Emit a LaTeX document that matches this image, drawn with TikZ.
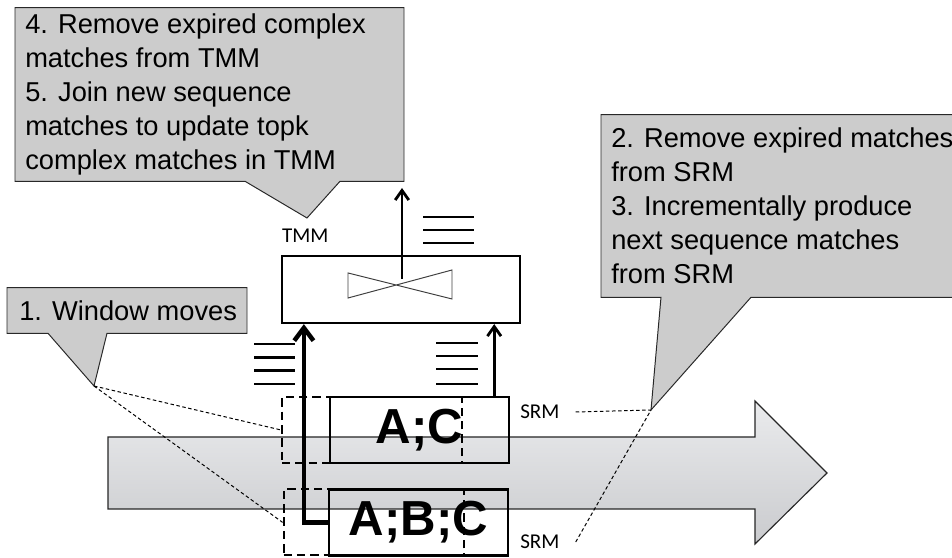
\documentclass[tikz,border=0pt]{standalone}
\usepackage{fontspec}
\setmainfont{Liberation Sans}
\newfontfamily\tagfont{Carlito}
\usetikzlibrary{positioning, arrows.meta, calc, backgrounds}
\definecolor{NoteGray}{RGB}{204,204,204}
\definecolor{NoteLine}{RGB}{40,40,40}
\definecolor{StreamTop}{RGB}{234,235,237}
\definecolor{StreamBottom}{RGB}{202,203,206}

\begin{document}
\begin{tikzpicture}[
    notetext/.style={align=left, anchor=west, inner xsep=0.25cm, inner ysep=0pt, font=\fontsize{19.4}{24.2}\selectfont},
    notebox/.style={draw=NoteLine, fill=NoteGray, line width=0.7pt},
    storebox/.style={draw, line width=1.6pt, minimum width=4.475cm, minimum height=1.65cm, inner sep=0pt, font=\fontsize{35}{40}\selectfont\bfseries},
    windowbox/.style={draw, line width=1.4pt, dash pattern=on 6pt off 3.5pt, minimum width=4.5cm, minimum height=1.65cm},
    taglabel/.style={font=\tagfont\fontsize{15}{18}\selectfont, inner xsep=0.4cm},
    flow/.style={-{Straight Barb[length=2.4mm, width=3.4mm]}, line width=2pt},
    bigflow/.style={-{Straight Barb[length=3.2mm, width=4.8mm]}, line width=3.2pt},
    marks/.style={line width=2pt},
    guide/.style={line width=0.7pt, dash pattern=on 2.5pt off 1.8pt},
    valve/.style={line width=0.7pt, draw=black!75}
]
\useasboundingbox (0,0) rectangle (23.8,13.95);
\clip (0,0) rectangle (23.8,13.95);

%%%%%%%%%%%%%%%%%%%%%%%%%%%%%%%%%%%%%%%%%%%%%%%%%%%%%%%%%%%%%%%%%%%
% Stream (big arrow in the back)
%%%%%%%%%%%%%%%%%%%%%%%%%%%%%%%%%%%%%%%%%%%%%%%%%%%%%%%%%%%%%%%%%%%
\draw[line width=0.8pt, draw=black!85, top color=StreamTop, bottom color=StreamBottom]
    (2.7,3.025) -- (18.875,3.025) -- (18.875,3.925) -- (20.675,2.125)
    -- (18.875,0.35) -- (18.875,1.225) -- (2.7,1.225) -- cycle;

%%%%%%%%%%%%%%%%%%%%%%%%%%%%%%%%%%%%%%%%%%%%%%%%%%%%%%%%%%%%%%%%%%%
% Windows and SRM boxes
%%%%%%%%%%%%%%%%%%%%%%%%%%%%%%%%%%%%%%%%%%%%%%%%%%%%%%%%%%%%%%%%%%%
\node[windowbox] (win_top) at (9.3,3.2) {};
\node[storebox] (srm_top) at (10.49,3.2) {A;C};
\node[taglabel, anchor=west] (srm_top_tag) at (12.6,3.65) {SRM};

\node[windowbox] (win_bot) at (9.34,0.89) {};
\node[storebox] (srm_bot) at (10.46,0.89) {A;B;C};
\node[taglabel, anchor=west] (srm_bot_tag) at (12.6,0.4) {SRM};

%%%%%%%%%%%%%%%%%%%%%%%%%%%%%%%%%%%%%%%%%%%%%%%%%%%%%%%%%%%%%%%%%%%
% TMM
%%%%%%%%%%%%%%%%%%%%%%%%%%%%%%%%%%%%%%%%%%%%%%%%%%%%%%%%%%%%%%%%%%%
\node[draw, line width=1.6pt, minimum width=5.95cm, minimum height=1.675cm] (tmm) at (10.025,6.7125) {};
\node[taglabel, inner xsep=0pt, anchor=base west] (tmm_tag) at ($(tmm.north west)+(0.025,0.3)$) {TMM};

% join symbol
\draw[valve] (8.7,7.125) -- (11.3,6.475) -- (11.3,7.2) -- (8.7,6.5) -- cycle;
\coordinate (join) at (10.05,6.825);
\coordinate (tmm_out) at (10.05,9.25);
\coordinate (srm_up) at ($(srm_top.north east)+(-0.4,0)$);

%%%%%%%%%%%%%%%%%%%%%%%%%%%%%%%%%%%%%%%%%%%%%%%%%%%%%%%%%%%%%%%%%%%
% Connections
%%%%%%%%%%%%%%%%%%%%%%%%%%%%%%%%%%%%%%%%%%%%%%%%%%%%%%%%%%%%%%%%%%%
\draw[bigflow] (srm_bot.west) -| ($(tmm.south west)+(0.575,0)$);
\draw[flow] (srm_up) -- (srm_up |- tmm.south);
\draw[flow] ([yshift=0.15cm]join) -- (tmm_out);

% match lists
\foreach \y in {5.35,5.017,4.683,4.35}
    \draw[marks] (6.35,\y) -- (7.375,\y);
\foreach \y in {5.375,5.05,4.725,4.35}
    \draw[marks] (10.9,\y) -- (11.95,\y);
\foreach \y in {8.525,8.2,7.875}
    \draw[marks] (10.575,\y) -- (11.85,\y);

%%%%%%%%%%%%%%%%%%%%%%%%%%%%%%%%%%%%%%%%%%%%%%%%%%%%%%%%%%%%%%%%%%%
% Steps
%%%%%%%%%%%%%%%%%%%%%%%%%%%%%%%%%%%%%%%%%%%%%%%%%%%%%%%%%%%%%%%%%%%
\node[notetext, minimum height=4.325cm] (step45) at (0.375,11.5875)
    {4. Remove expired complex\\ matches from TMM\\ 5. Join new sequence\\ matches to update topk\\ complex matches in TMM};
\coordinate (tip45) at (7.675,8.5);

\node[notetext, minimum height=4.55cm] (step23) at (15.025,8.8)
    {2. Remove expired matches\\ from SRM\\ 3. Incrementally produce\\ next sequence matches\\ from SRM};
\coordinate (tip23) at (16.275,3.7);

\node[notetext, inner xsep=0.3cm, minimum height=1.125cm] (step1) at (0.175,6.1875) {1. Window moves};
\coordinate (tip1) at (2.35,4.3);

\begin{scope}[on background layer]
\draw[notebox] (step45.south west) -- (step45.north west) -- ($(step45.north west)+(9.725,0)$)
    -- ($(step45.south west)+(9.725,0)$) -- ($(step45.south west)+(8.125,0)$) -- (tip45)
    -- ($(step45.south west)+(5.75,0)$) -- cycle;
\draw[notebox] (step23.south west) -- (step23.north west) -- ($(step23.north west)+(8.835,0)$)
    -- ($(step23.south west)+(8.835,0)$) -- ($(step23.south west)+(3.75,0)$) -- (tip23)
    -- ($(step23.south west)+(1.5,0)$) -- cycle;
\draw[notebox] (step1.south west) -- (step1.north west) -- ($(step1.north west)+(6,0)$)
    -- ($(step1.south west)+(6,0)$) -- ($(step1.south west)+(2.5,0)$) -- (tip1)
    -- ($(step1.south west)+(1.025,0)$) -- cycle;
\end{scope}

% window moves / SRM pointers
\draw[guide] (tip1) -- (win_top.west);
\draw[guide] (tip1) -- (win_bot.west);
\draw[guide] (srm_top_tag.east) -- (tip23);
\draw[guide] (srm_bot_tag.east) -- (tip23);

\end{tikzpicture}
\end{document}
